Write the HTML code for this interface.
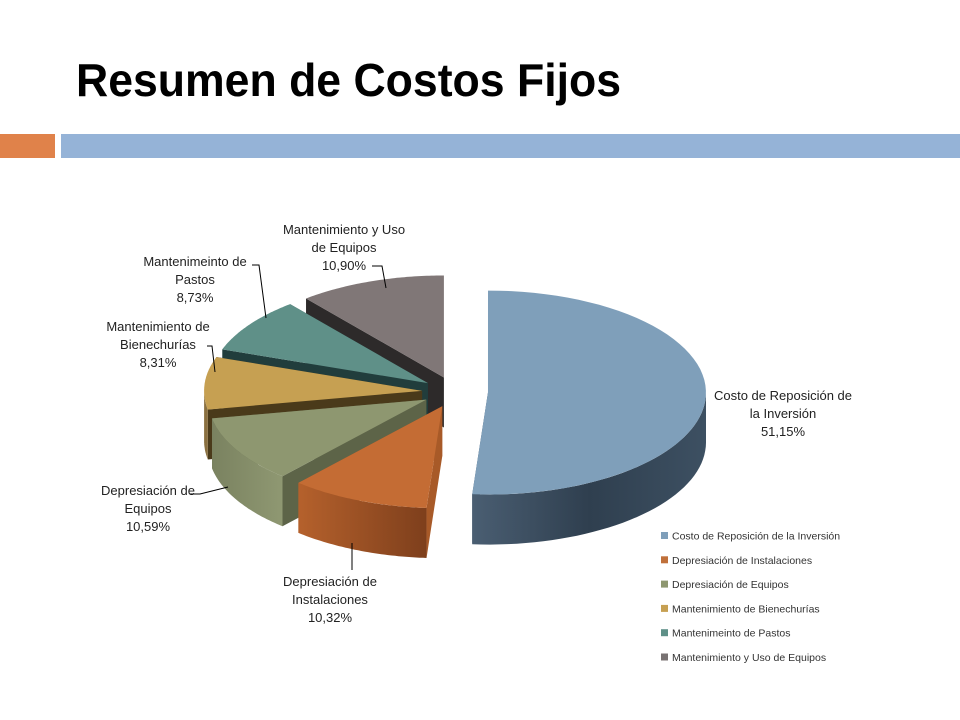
<!DOCTYPE html>
<html><head><meta charset="utf-8"><style>
html,body{margin:0;padding:0;background:#fff;}
svg{display:block;font-family:"Liberation Sans",sans-serif;}
</style></head><body>
<svg id="chart" width="960" height="720" viewBox="0 0 960 720" xmlns="http://www.w3.org/2000/svg">
<defs>
<linearGradient id="wall0" x1="0" x2="1" y1="0" y2="0"><stop offset="0" stop-color="#4a5e72"/><stop offset="0.5" stop-color="#2f3f4f"/><stop offset="1" stop-color="#3d5062"/></linearGradient>
<linearGradient id="wall1" x1="0" x2="1" y1="0" y2="0"><stop offset="0" stop-color="#b5612c"/><stop offset="1" stop-color="#7e3f1c"/></linearGradient>
<linearGradient id="wall2" x1="0" x2="1" y1="0" y2="0"><stop offset="0" stop-color="#7a8260"/><stop offset="1" stop-color="#8f9872"/></linearGradient>
</defs>
<text x="76" y="96" font-size="46" font-weight="bold" fill="#000" textLength="545" lengthAdjust="spacingAndGlyphs">Resumen de Costos Fijos</text>
<rect x="0" y="134" width="55" height="24" fill="#e0824a"/>
<rect x="61" y="134" width="899" height="24" fill="#95b3d7"/>
<g id="pie"></g>
<g id="labels"></g>
<g id="legend"></g>
</svg>
<script>
const categories = ["Costo de Reposición de la Inversión","Depresiación de Instalaciones","Depresiación de Equipos","Mantenimiento de Bienechurías","Mantenimeinto de Pastos","Mantenimiento y Uso de Equipos"];
const values = [51.15, 10.32, 10.59, 8.31, 8.73, 10.90];
const valueLabels = ["51,15%","10,32%","10,59%","8,31%","8,73%","10,90%"];

const NS = "http://www.w3.org/2000/svg";
const topColors = ["#7f9fba","#c46c34","#8e9770","#c6a052","#5f9088","#807777"];
const wallColors = ["url(#wall0)","url(#wall1)","url(#wall2)","#8a7040","#3d5e5a","#4a4444"];
const sideColors = ["#34475a","#a85a28","#5d6448","#4a3a1a","#213d3c","#2d2a2a"];
const legendColors = ["#7f9fba","#c0703a","#8e9770","#c6a052","#5f9088","#787272"];
const C0 = {x:455, y:392}, rx = 218, ry = 102, depth = 50, explode = 33;
const pie = document.getElementById('pie');

function pt(cx, cy, deg){ const r = deg*Math.PI/180; return [cx + rx*Math.sin(r), cy - ry*Math.cos(r)]; }
function mk(tag, attrs){ const e = document.createElementNS(NS, tag); for (const k in attrs) e.setAttribute(k, attrs[k]); return e; }

const total = values.reduce((a,b)=>a+b,0);
let acc = 0;
const slices = values.map((v,i)=>{ const a0 = acc/total*360; acc += v; const a1 = acc/total*360; return {i,a0,a1}; });
slices.forEach(s=>{
  const mid = (s.a0+s.a1)/2*Math.PI/180;
  s.cx = C0.x + explode*Math.sin(mid);
  s.cy = C0.y - explode*Math.cos(mid)*ry/rx;
});
// paint back to front
const order = slices.slice().sort((a,b)=>a.cy-b.cy);
order.forEach(s=>{
  const g = mk('g',{});
  
  
  const {cx,cy,a0,a1,i} = s;
  // radial faces
  [a0,a1].forEach(a=>{
    const p = pt(cx,cy,a);
    const f = mk('path',{d:`M${cx},${cy} L${p[0]},${p[1]} L${p[0]},${p[1]+depth} L${cx},${cy+depth} Z`, fill:sideColors[i]});
    
    
    g.appendChild(f);
  });
  // outer wall front portion
  const w0 = Math.max(a0,90), w1 = Math.min(a1,270);
  if (w1 > w0) {
    let d = '', pts = [];
    for (let t=0;t<=40;t++){ pts.push(pt(cx,cy,w0+(w1-w0)*t/40)); }
    d = 'M' + pts.map(p=>p[0].toFixed(1)+','+p[1].toFixed(1)).join(' L');
    d += ' L' + pts.slice().reverse().map(p=>p[0].toFixed(1)+','+(p[1]+depth).toFixed(1)).join(' L') + ' Z';
    const w = mk('path',{d, fill:wallColors[i]});
    
    
    g.appendChild(w);
  }
  // top
  let pts = [];
  for (let t=0;t<=60;t++){ pts.push(pt(cx,cy,a0+(a1-a0)*t/60)); }
  const d = `M${cx},${cy} L` + pts.map(p=>p[0].toFixed(1)+','+p[1].toFixed(1)).join(' L') + ' Z';
  const tp = mk('path',{d, fill:topColors[i]});
  
  
  g.appendChild(tp);
  pie.appendChild(g);
});

// data labels
const labelLines = [
  ["Costo de Reposición de","la Inversión"],
  ["Depresiación de","Instalaciones"],
  ["Depresiación de","Equipos"],
  ["Mantenimiento de","Bienechurías"],
  ["Mantenimeinto de","Pastos"],
  ["Mantenimiento y Uso","de Equipos"]
];
const labelPos = [[783,400],[330,586],[148,495],[158,331],[195,266],[344,234]];
const leaders = [null,[[352,570],[352,543]],[[190,494],[200,494],[228,487]],[[207,346],[212,346],[215,372]],[[252,265],[259,265],[266,318]],[[372,266],[382,266],[386,288]]];
const lg = document.getElementById('labels');
labelLines.forEach((lines,i)=>{
  const t = mk('text',{x:labelPos[i][0], y:labelPos[i][1], 'font-size':13, fill:'#222', 'text-anchor':'middle'});
  
  
  lines.concat([valueLabels[i]]).forEach((s,k)=>{
    const ts = mk('tspan',{x:labelPos[i][0], dy: k===0?0:18});
    ts.textContent = s; t.appendChild(ts);
  });
  lg.appendChild(t);
  if (leaders[i]) {
    const l = mk('polyline',{points:leaders[i].map(p=>p.join(',')).join(' '), fill:'none', stroke:'#000', 'stroke-width':1});
    
    
    lg.appendChild(l);
  }
});

// legend
const leg = document.getElementById('legend');
categories.forEach((c,i)=>{
  const y = 536 + i*24.3;
  const r = mk('rect',{x:661, y:y-4, width:7, height:7, fill:legendColors[i]});
  
  
  leg.appendChild(r);
  const t = mk('text',{x:672, y:y+3.5, 'font-size':10.5, fill:'#333'});
  
  
  t.textContent = c;
  leg.appendChild(t);
});
</script>
</body></html>
